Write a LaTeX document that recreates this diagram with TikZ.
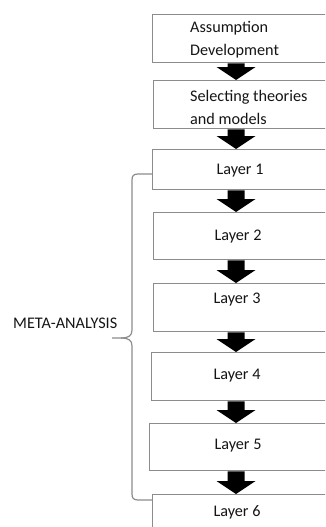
\documentclass[tikz,border=0pt]{standalone}
\usepackage{fontspec}
\setmainfont{Carlito}
\usetikzlibrary{calc}
\definecolor{boxline}{HTML}{8C8C8C}
\definecolor{txtcol}{HTML}{151515}
\tikzset{
  boxnode/.style={draw=boxline, line width=1.3pt, rectangle, anchor=north west, minimum width=200pt, inner sep=0pt, fill=white},
  txtnode/.style={inner sep=0pt, text=txtcol, font=\fontsize{16.2}{22.5}\selectfont},
  bracepath/.style={draw=boxline, line width=1.2pt},
}
\newcommand\blockarrow[2]{%
  \fill[black] let \p1=(#1.south -| ax), \p2=(#2.north -| ax) in
    (\x1-8.5pt,\y1) -- (\x1+8.5pt,\y1) -- (\x1+8.5pt,\y2+13pt) -- (\x1+19.5pt,\y2+13pt)
    -- (\x1,\y2) -- (\x1-19.5pt,\y2+13pt) -- (\x1-8.5pt,\y2+13pt) -- cycle;}
\begin{document}
\begin{tikzpicture}[x=1pt,y=-1pt]
\useasboundingbox (0,0) rectangle (325,527);
\clip (0,0) rectangle (325,527);
\coordinate (ax) at (236,0);
% boxes
\node[boxnode, minimum height=48pt] (B1) at (152,14) {};
\node[boxnode, minimum height=48pt] (B2) at (153,80) {};
\node[boxnode, minimum height=40pt] (L1) at (152,149) {};
\node[boxnode, minimum height=47pt] (L2) at (153,212) {};
\node[boxnode, minimum height=48pt] (L3) at (153,283) {};
\node[boxnode, minimum height=48pt] (L4) at (151,352) {};
\node[boxnode, minimum height=47pt] (L5) at (149,423) {};
\node[boxnode, minimum height=50pt] (L6) at (152,494) {};
% texts
\node[txtnode, align=left, anchor=west] (T1) at (190,39.5) {Assumption\\Development};
\node[txtnode, align=left, anchor=west] (T2) at (190,107.5) {Selecting theories\\and models};
\node[txtnode] (TL1) at (240,171) {Layer 1};
\node[txtnode] (TL2) at (238,237) {Layer 2};
\node[txtnode] (TL3) at (237,300) {Layer 3};
\node[txtnode] (TL4) at (237,376) {Layer 4};
\node[txtnode] (TL5) at (238,446) {Layer 5};
\node[txtnode] (TL6) at (237,512) {Layer 6};
% arrows
\blockarrow{B1}{B2}
\blockarrow{B2}{L1}
\blockarrow{L1}{L2}
\blockarrow{L2}{L3}
\blockarrow{L3}{L4}
\blockarrow{L4}{L5}
\blockarrow{L5}{L6}
% brace
\coordinate (bt) at (L1.west |- 0,174);
\coordinate (bb) at (L6.west |- 0,500);
\draw[bracepath] (bt) -- (138,174) .. controls (133.5,174) and (132,176) .. (132,180)
  -- (132,330) .. controls (132,335.5) and (129,338) .. (121,338) -- (112,338);
\draw[bracepath] (121,338) .. controls (129,338) and (132,340.5) .. (132,346)
  -- (132,494) .. controls (132,498) and (133.5,500) .. (138,500) -- (bb);
\node[txtnode, anchor=west] (MA) at (13,323) {META-ANALYSIS};
\end{tikzpicture}
\end{document}
